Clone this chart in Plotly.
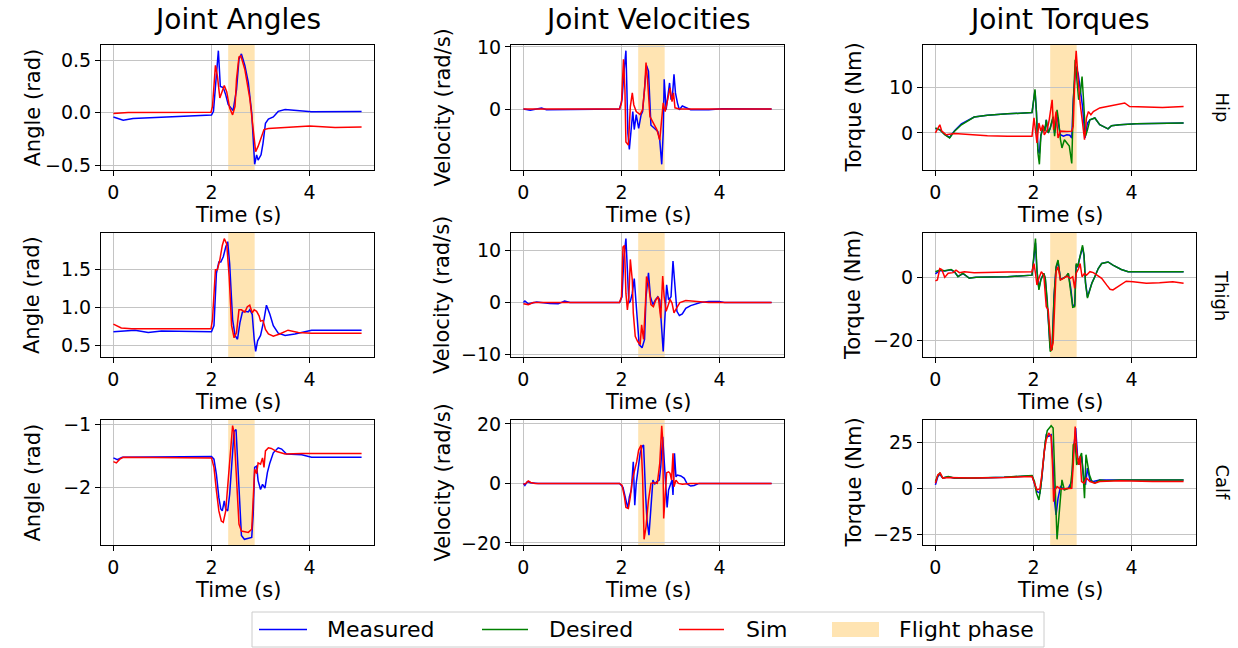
import plotly.graph_objects as go

W, H = 1238, 648
FONT = "DejaVu Sans"

# ---------------------------------------------------------------- data
# Each series is a list of (time [s], value) samples.
FLIGHT_START, FLIGHT_END = 2.34, 2.88

# Hip
hip_angle_measured = [(0, -0.04), (0.2, -0.07), (0.4, -0.055), (1.0, -0.04), (2.0, -0.022), (2.04, 0.013),
                      (2.09, 0.35), (2.14, 0.59), (2.18, 0.25), (2.24, 0.24), (2.29, 0.17), (2.34, 0.08),
                      (2.44, 0.02), (2.51, 0.22), (2.56, 0.51), (2.61, 0.56), (2.68, 0.45), (2.75, 0.29),
                      (2.82, 0.0), (2.85, -0.32), (2.88, -0.49), (2.92, -0.40), (2.95, -0.45), (3.01, -0.40),
                      (3.05, -0.29), (3.10, -0.10), (3.16, -0.06), (3.26, -0.04), (3.36, 0.013), (3.50, 0.03),
                      (3.84, 0.013), (4.04, 0.01), (5.06, 0.013)]
hip_angle_sim = [(0, -0.006), (0.3, 0.003), (1.99, 0.006), (2.02, 0.06), (2.08, 0.45), (2.12, 0.35),
                 (2.17, 0.14), (2.22, 0.22), (2.26, 0.26), (2.31, 0.2), (2.37, 0.045), (2.43, -0.02),
                 (2.48, 0.06), (2.51, 0.32), (2.56, 0.53), (2.6, 0.54), (2.68, 0.41), (2.78, 0.14),
                 (2.85, -0.2), (2.90, -0.37), (2.95, -0.32), (3.02, -0.23), (3.07, -0.16), (3.16, -0.15),
                 (3.5, -0.14), (4.0, -0.125), (4.52, -0.14), (5.06, -0.135)]

hip_vel_measured = [(0, 0), (0.14, -0.2), (0.37, 0.15), (0.47, -0.1), (1.96, 0), (2.01, 1.5), (2.05, 5.9),
                    (2.09, 9.4), (2.11, 3.2), (2.13, -3.9), (2.16, -6.5), (2.20, -2.3), (2.23, -0.4),
                    (2.26, -3.3), (2.3, -0.9), (2.35, -3.1), (2.4, -0.9), (2.43, -0.4), (2.47, 3.7),
                    (2.51, 7.0), (2.55, 6.1), (2.6, -2.6), (2.67, -3.1), (2.74, -3.6), (2.78, -5.0),
                    (2.82, -8.9), (2.85, -3.9), (2.87, 4.8), (2.91, -0.1), (2.95, 2.9), (2.98, 4.2),
                    (3.01, 1.5), (3.04, 2.3), (3.07, 5.6), (3.1, 2.6), (3.14, 1.0), (3.18, -0.1),
                    (3.24, 0.5), (3.31, 0.3), (3.41, -0.1), (3.78, -0.1), (4.05, 0.05), (5.06, 0)]
hip_vel_sim = [(0, 0), (1.96, 0), (2.0, 1.0), (2.04, 8.0), (2.07, 3.0), (2.09, -5.3), (2.14, -5.8),
               (2.18, 0.4), (2.22, 2.6), (2.25, 0.7), (2.3, -0.4), (2.38, -0.9), (2.43, -0.1), (2.47, 3.2),
               (2.5, 7.5), (2.53, 4.8), (2.58, -1.2), (2.65, -2.3), (2.72, -3.3), (2.78, -5.0),
               (2.82, -1.7), (2.85, 1.0), (2.89, -0.4), (2.94, 1.8), (2.99, 3.4), (3.03, 1.2),
               (3.06, 2.6), (3.09, 0.2), (3.18, 0), (5.06, 0)]

hip_tq_measured = [(0, 1.0), (0.09, 0.7), (0.19, -0.3), (0.29, -1.0), (0.39, 0.5), (0.53, 2.0), (0.79, 3.5),
                   (1.06, 3.9), (1.47, 4.2), (1.97, 4.5), (2.03, 9.3), (2.06, 4.6), (2.09, -3.6),
                   (2.12, -4.5), (2.15, -0.5), (2.2, 1.5), (2.23, 0.4), (2.26, 2.9), (2.30, 0), (2.34, 1.0),
                   (2.4, 3.4), (2.43, 0), (2.48, 3.6), (2.55, -0.4), (2.61, -0.7), (2.68, -0.4),
                   (2.74, -0.5), (2.78, -1.1), (2.81, 7.3), (2.86, 14.6), (2.91, 13.1), (2.95, 9.5),
                   (3.0, 5.8), (3.05, -1.1), (3.1, 2.2), (3.15, 2.9), (3.25, 3.3), (3.35, 1.8),
                   (3.45, 1.3), (3.52, 0.9), (3.59, 1.6), (3.76, 1.8), (4.09, 2.0), (5.06, 2.2)]
hip_tq_desired = [(0, 1.1), (0.09, 0.7), (0.19, -0.4), (0.29, -1.1), (0.39, 0.4), (0.53, 1.8), (0.79, 3.5),
                  (1.06, 3.9), (1.47, 4.2), (1.97, 4.5), (2.03, 9.6), (2.06, 4.4), (2.09, -4.4),
                  (2.12, -6.9), (2.15, -0.7), (2.2, 1.5), (2.23, 0.4), (2.26, 2.9), (2.30, 0), (2.34, 1.1),
                  (2.4, 3.6), (2.43, -0.7), (2.48, 5.1), (2.51, 2.9), (2.55, -1.5), (2.58, -3.3),
                  (2.63, -1.5), (2.68, -2.2), (2.73, -2.9), (2.78, -6.7), (2.81, 5.8), (2.85, 16.1),
                  (2.88, 11.7), (2.92, 7.3), (2.96, 9.1), (2.99, 12.4), (3.02, 7.3), (3.06, -0.7),
                  (3.1, 0.7), (3.15, 2.9), (3.25, 3.3), (3.35, 1.8), (3.45, 1.3), (3.52, 0.9), (3.59, 1.6),
                  (3.76, 1.8), (4.09, 2.0), (5.06, 2.2)]
hip_tq_sim = [(0, 0), (0.05, 1.1), (0.09, 1.8), (0.13, 0.4), (0.22, -0.4), (0.39, -0.1), (0.73, -0.4),
              (1.06, -0.6), (1.47, -0.7), (1.97, -0.7), (2.01, 3.3), (2.04, 0.7), (2.07, -2.2),
              (2.11, 2.2), (2.15, 0.4), (2.19, 1.8), (2.22, -0.4), (2.28, 0.7), (2.32, 2.9), (2.38, 7.3),
              (2.41, 0.7), (2.46, 4.7), (2.5, -1.1), (2.55, 0.4), (2.68, 0.3), (2.78, 0.4), (2.81, 1.5),
              (2.85, 14.6), (2.87, 18.1), (2.91, 11.7), (2.95, 6.6), (3.0, 2.2), (3.04, -1.5),
              (3.08, 3.3), (3.12, 4.7), (3.17, 4.0), (3.22, 4.7), (3.35, 5.5), (3.49, 5.8), (3.69, 6.2),
              (3.86, 6.6), (3.96, 5.8), (4.30, 5.7), (4.63, 5.6), (5.06, 5.8)]

# Thigh
thigh_angle_measured = [(0, 0.68), (0.16, 0.69), (0.44, 0.70), (0.71, 0.67), (0.98, 0.69), (2.0, 0.68),
                        (2.05, 0.76), (2.1, 1.45), (2.15, 1.6), (2.19, 1.6), (2.24, 1.67), (2.29, 1.8),
                        (2.33, 1.87), (2.37, 1.58), (2.43, 0.84), (2.48, 0.63), (2.53, 0.58), (2.58, 0.8),
                        (2.63, 0.94), (2.68, 0.95), (2.75, 0.94), (2.78, 0.97), (2.83, 0.91), (2.87, 0.58),
                        (2.9, 0.42), (2.94, 0.56), (3.0, 0.63), (3.07, 0.84), (3.12, 1.03), (3.19, 0.91),
                        (3.26, 0.76), (3.36, 0.66), (3.5, 0.63), (3.7, 0.65), (4.04, 0.70), (5.06, 0.70)]
thigh_angle_sim = [(0, 0.78), (0.16, 0.73), (0.37, 0.72), (1.99, 0.72), (2.02, 0.84), (2.08, 1.50),
                   (2.12, 1.50), (2.17, 1.63), (2.22, 1.82), (2.26, 1.91), (2.31, 1.84), (2.36, 1.41),
                   (2.41, 0.76), (2.46, 0.6), (2.51, 0.67), (2.56, 0.97), (2.61, 0.97), (2.68, 0.94),
                   (2.73, 1.01), (2.78, 1.03), (2.83, 0.93), (2.87, 0.97), (2.92, 0.95), (2.97, 0.89),
                   (3.0, 0.82), (3.05, 0.83), (3.1, 0.71), (3.16, 0.65), (3.26, 0.62), (3.39, 0.65),
                   (3.56, 0.70), (3.77, 0.67), (4.04, 0.66), (5.06, 0.66)]

thigh_vel_measured = [(0, 0), (0.03, 0.3), (0.1, -0.25), (0.27, 0.1), (0.54, -0.2), (0.71, -0.25),
                      (0.84, 0.3), (0.95, 0), (1.96, 0), (2.01, 1.1), (2.05, 8.8), (2.09, 12.3),
                      (2.12, 6.2), (2.15, -0.1), (2.18, 0.2), (2.22, 1.8), (2.26, 4.6), (2.3, -0.8),
                      (2.33, -5.2), (2.36, -8.1), (2.42, -8.7), (2.47, -7.1), (2.5, 1.1), (2.55, 5.7),
                      (2.59, 1.1), (2.64, -0.4), (2.69, 0.5), (2.74, 1.1), (2.78, 0.5), (2.82, -4.6),
                      (2.85, -9.4), (2.89, -2.0), (2.92, 3.4), (2.96, 0.5), (3.01, 1.1), (3.05, 8.0),
                      (3.09, 2.4), (3.13, -1.7), (3.18, -2.5), (3.24, -2.2), (3.31, -1.1), (3.41, -0.6),
                      (3.61, 0), (3.78, 0.2), (3.99, 0.2), (4.1, 0), (5.06, 0)]
thigh_vel_sim = [(0, -0.25), (0.1, -0.4), (0.2, 0), (1.96, 0), (2.0, 1.1), (2.03, 10.7), (2.06, 11.0),
                 (2.09, 1.8), (2.12, -1.4), (2.15, 1.1), (2.18, 8.3), (2.22, 4.3), (2.24, -2.0),
                 (2.28, -6.5), (2.33, -7.5), (2.38, -8.1), (2.41, -4.3), (2.45, -7.1), (2.49, 0.2),
                 (2.51, 5.0), (2.55, 3.7), (2.6, -0.4), (2.65, -0.8), (2.7, 0.5), (2.75, 1.1),
                 (2.8, -3.0), (2.84, 5.1), (2.87, 1.1), (2.91, -1.7), (2.95, -0.4), (2.99, 0.6),
                 (3.03, -0.1), (3.07, -2.0), (3.12, -1.1), (3.19, 0), (3.31, 0.4), (3.51, 0.25),
                 (3.78, 0), (5.06, 0)]

thigh_tq_measured = [(0, 1.1), (0.09, 2.2), (0.19, 2.0), (0.32, 2.4), (0.39, 1.7), (0.46, 0.3), (0.56, 1.2),
                     (0.69, -0.2), (0.83, 0), (1.06, 0), (1.47, 0.2), (1.97, 0.7), (2.01, 7.0),
                     (2.04, 11.0), (2.07, 2.0), (2.11, -3.5), (2.15, -0.6), (2.21, 1.2), (2.24, -0.4),
                     (2.28, -8.0), (2.31, -15.0), (2.34, -22.5), (2.38, -22.0), (2.42, -5.5), (2.46, 3.0),
                     (2.50, 5.0), (2.55, -0.6), (2.6, -0.3), (2.66, 0.2), (2.71, 1.2), (2.76, -3.5),
                     (2.8, -9.0), (2.84, -8.8), (2.87, 4.0), (2.9, 3.2), (2.94, 6.0), (2.97, 8.0),
                     (3.0, 9.5), (3.03, 6.8), (3.06, -1.5), (3.1, -6.2), (3.14, -4.3), (3.19, -1.8),
                     (3.25, 0.2), (3.32, 2.8), (3.39, 4.4), (3.52, 4.9), (3.62, 3.9), (3.79, 2.5),
                     (3.93, 1.8), (4.43, 1.7), (5.06, 1.8)]
thigh_tq_desired = [(0, 1.8), (0.09, 2.3), (0.19, 2.1), (0.32, 2.5), (0.39, 1.8), (0.46, 0.2), (0.56, 1.3),
                    (0.69, -0.3), (0.83, 0), (1.06, 0), (1.47, 0.2), (1.97, 0.7), (2.01, 7.6),
                    (2.04, 12.3), (2.07, 2.3), (2.11, -4.0), (2.15, -0.8), (2.21, 1.3), (2.24, -0.3),
                    (2.28, -7.2), (2.31, -15.6), (2.34, -23.5), (2.38, -22.9), (2.42, -6.1), (2.46, 3.4),
                    (2.50, 5.5), (2.55, -0.8), (2.6, -0.3), (2.66, 0.2), (2.71, 1.3), (2.76, -4.0),
                    (2.8, -9.5), (2.84, -9.3), (2.87, 4.4), (2.9, 3.4), (2.94, 6.5), (2.97, 8.6),
                    (3.0, 10.2), (3.03, 7.1), (3.06, -1.9), (3.1, -6.6), (3.14, -4.5), (3.19, -1.9),
                    (3.25, 0.2), (3.32, 2.8), (3.39, 4.4), (3.52, 4.9), (3.62, 3.9), (3.79, 2.5),
                    (3.93, 1.8), (4.43, 1.7), (5.06, 1.8)]
thigh_tq_sim = [(0, -1.1), (0.04, -0.8), (0.09, 2.8), (0.13, 2.5), (0.19, 0), (0.26, 1.3), (0.36, 1.5),
                (0.42, 2.3), (0.49, 1.5), (0.59, 1.8), (0.79, 1.5), (1.06, 1.5), (1.47, 1.7),
                (1.97, 1.8), (2.01, 4.4), (2.04, 1.3), (2.07, -2.4), (2.11, -0.3), (2.16, 1.8),
                (2.21, 0.7), (2.26, -9.3), (2.3, -10.3), (2.33, -17.7), (2.36, -23.3), (2.4, -20.8),
                (2.43, -6.1), (2.46, 1.8), (2.5, 3.4), (2.55, -0.8), (2.61, -0.3), (2.68, 0.4),
                (2.75, -0.3), (2.8, 0.2), (2.84, -3.5), (2.87, 1.3), (2.92, 2.8), (2.95, 4.4),
                (2.99, 0.2), (3.04, 1.3), (3.08, 0.7), (3.15, 1.8), (3.22, 1.5), (3.29, 0.7),
                (3.39, -0.3), (3.49, -2.4), (3.56, -3.8), (3.62, -4.0), (3.76, -2.4), (3.89, -1.2),
                (4.03, -1.4), (4.3, -1.9), (4.57, -1.7), (4.84, -1.4), (5.06, -1.9)]

# Calf
calf_angle_measured = [(0, -1.53), (0.08, -1.56), (0.18, -1.52), (0.44, -1.52), (1.12, -1.52), (2.0, -1.51),
                       (2.05, -1.55), (2.1, -1.79), (2.15, -2.16), (2.19, -2.34), (2.22, -2.37),
                       (2.26, -2.21), (2.29, -2.34), (2.33, -2.37), (2.37, -2.11), (2.43, -1.42),
                       (2.46, -1.11), (2.5, -1.08), (2.53, -1.53), (2.58, -2.42), (2.61, -2.76),
                       (2.67, -2.82), (2.75, -2.8), (2.82, -2.79), (2.85, -2.42), (2.88, -1.68),
                       (2.92, -1.66), (2.95, -1.89), (3.0, -2.03), (3.04, -1.95), (3.09, -2.01),
                       (3.14, -1.76), (3.19, -1.61), (3.26, -1.45), (3.36, -1.37), (3.43, -1.39),
                       (3.53, -1.47), (3.84, -1.48), (4.04, -1.52), (5.06, -1.52)]
calf_angle_sim = [(0, -1.59), (0.06, -1.61), (0.13, -1.55), (0.2, -1.52), (2.0, -1.53), (2.05, -1.68),
                  (2.1, -2.05), (2.15, -2.37), (2.2, -2.53), (2.24, -2.55), (2.29, -2.37), (2.34, -1.89),
                  (2.39, -1.32), (2.43, -1.02), (2.46, -1.13), (2.51, -1.89), (2.56, -2.58),
                  (2.61, -2.69), (2.75, -2.71), (2.82, -2.66), (2.85, -2.16), (2.88, -1.71),
                  (2.92, -1.78), (2.95, -1.61), (3.0, -1.63), (3.04, -1.53), (3.07, -1.68), (3.1, -1.42),
                  (3.16, -1.37), (3.22, -1.38), (3.33, -1.43), (3.5, -1.47), (3.84, -1.46),
                  (4.52, -1.46), (5.06, -1.46)]

calf_vel_measured = [(0, 0), (0.03, -0.7), (0.08, 0.6), (0.14, 0.2), (0.3, 0), (1.96, 0), (2.03, -1.3),
                     (2.08, -4.5), (2.13, -8.4), (2.16, -4.5), (2.2, -2.2), (2.24, 7.3), (2.27, -7.3),
                     (2.3, 0), (2.34, 5.6), (2.38, 10.1), (2.42, 12.4), (2.45, 12.9), (2.49, -3.4),
                     (2.52, -12.4), (2.56, -17.4), (2.6, -7.9), (2.64, 1.1), (2.68, -0.2), (2.72, 0.6),
                     (2.77, 1.1), (2.8, 5.6), (2.84, 15.7), (2.87, 7.3), (2.9, -1.1), (2.93, -8.1),
                     (2.96, -2.2), (3.0, -0.6), (3.03, 1.1), (3.05, -3.9), (3.08, 10.1), (3.11, 2.2),
                     (3.14, 2.8), (3.21, 2.5), (3.28, 1.7), (3.34, -0.2), (3.41, -0.9), (3.48, -0.7),
                     (3.58, 0), (5.06, 0)]
calf_vel_sim = [(0, -0.3), (0.05, 0), (0.1, 0.8), (0.15, 0.3), (0.24, 0), (1.96, 0), (2.01, -0.6),
                (2.06, -4.5), (2.09, -8.1), (2.14, -8.4), (2.18, -4.5), (2.22, 1.1), (2.26, 3.9),
                (2.31, 7.3), (2.35, 11.2), (2.4, 12.9), (2.43, 2.2), (2.46, -18.8), (2.5, -14.6),
                (2.55, -5.6), (2.6, 0), (2.65, 0.2), (2.73, 0), (2.78, 6.7), (2.82, 19.4), (2.84, 14.6),
                (2.86, -11.8), (2.89, -2.2), (2.92, 3.6), (2.96, 3.9), (2.99, 3.4), (3.02, 1.1),
                (3.05, 10.1), (3.07, -1.1), (3.11, 1.1), (3.16, 0), (3.24, -0.3), (3.4, 0), (5.06, 0)]

calf_tq_measured = [(0, 1.8), (0.05, 6.4), (0.09, 7.6), (0.15, 5.5), (0.26, 6.2), (0.39, 5.4), (0.73, 5.4),
                    (1.4, 5.9), (1.97, 6.8), (2.02, 2.7), (2.07, -1.8), (2.13, -2.7), (2.17, 5.5),
                    (2.22, 20.0), (2.26, 29.0), (2.31, 28.2), (2.36, 29.0), (2.4, 12.7), (2.43, -7.3),
                    (2.46, -14.5), (2.5, -5.5), (2.55, 0.9), (2.61, -0.4), (2.71, 0), (2.78, 3.6),
                    (2.81, 18.2), (2.86, 32.7), (2.9, 16.4), (2.95, 12.7), (2.98, 17.3), (3.02, 7.3),
                    (3.06, 1.8), (3.1, 10.9), (3.15, 4.5), (3.22, 3.6), (3.35, 4.5), (3.76, 4.4),
                    (4.43, 4.4), (5.06, 4.5)]
calf_tq_desired = [(0, 3.6), (0.04, 6.4), (0.09, 8.2), (0.15, 5.5), (0.26, 6.4), (0.39, 5.5), (0.73, 5.5),
                   (1.4, 6.0), (1.97, 6.9), (2.02, 3.6), (2.06, -2.7), (2.11, -6.4), (2.15, 0.9),
                   (2.2, 13.6), (2.24, 25.5), (2.28, 31.3), (2.31, 32.4), (2.36, 34.0), (2.4, 32.7),
                   (2.43, 14.5), (2.45, -5.5), (2.48, -27.8), (2.51, -16.4), (2.55, -5.5), (2.58, 4.5),
                   (2.63, -0.9), (2.68, -0.4), (2.75, 0.4), (2.79, 10.0), (2.81, 23.6), (2.85, 24.5),
                   (2.88, 12.7), (2.94, 16.4), (2.98, 19.1), (3.02, 3.6), (3.04, -5.5), (3.07, 18.2),
                   (3.1, 12.7), (3.14, 7.3), (3.19, 3.6), (3.25, 2.7), (3.35, 4.5), (3.49, 4.0),
                   (3.76, 4.4), (4.43, 4.4), (5.06, 4.5)]
calf_tq_sim = [(0, 2.7), (0.05, 7.3), (0.1, 8.2), (0.15, 5.5), (0.26, 5.8), (0.73, 5.5), (1.4, 5.8),
               (1.97, 6.4), (2.02, 2.7), (2.07, -0.9), (2.13, -0.4), (2.17, 7.3), (2.22, 20.0),
               (2.26, 26.4), (2.31, 30.0), (2.36, 28.2), (2.39, 10.9), (2.41, -7.3), (2.44, -0.9),
               (2.48, 0.9), (2.55, -0.4), (2.68, -0.4), (2.78, 0), (2.81, 12.7), (2.85, 33.6),
               (2.88, 20.0), (2.92, 12.7), (2.95, 17.3), (2.98, 3.6), (3.03, 2.7), (3.08, 5.5),
               (3.15, 3.6), (3.25, 2.7), (3.35, 3.6), (3.76, 4.0), (4.43, 3.6), (5.06, 3.6)]

COLUMN_TITLES = ["Joint Angles", "Joint Velocities", "Joint Torques"]
ROW_NAMES = ["Hip", "Thigh", "Calf"]
Y_LABELS = ["Angle (rad)", "Velocity (rad/s)", "Torque (Nm)"]
X_LABEL = "Time (s)"
X_TICKS = [0, 2, 4]
Y_TICKS = [
    [[-0.5, 0.0, 0.5], [0, 10], [0, 10]],
    [[0.5, 1.0, 1.5], [-10, 0, 10], [-20, 0]],
    [[-2, -1], [-20, 0, 20], [-25, 0, 25]],
]
Y_TICK_FORMAT = [[".1f", "d", "d"], [".1f", "d", "d"], ["d", "d", "d"]]
LEGEND_NAMES = ["Measured", "Desired", "Sim", "Flight phase"]

PANELS = [
    [{"Measured": hip_angle_measured, "Sim": hip_angle_sim},
     {"Measured": hip_vel_measured, "Sim": hip_vel_sim},
     {"Measured": hip_tq_measured, "Desired": hip_tq_desired, "Sim": hip_tq_sim}],
    [{"Measured": thigh_angle_measured, "Sim": thigh_angle_sim},
     {"Measured": thigh_vel_measured, "Sim": thigh_vel_sim},
     {"Measured": thigh_tq_measured, "Desired": thigh_tq_desired, "Sim": thigh_tq_sim}],
    [{"Measured": calf_angle_measured, "Sim": calf_angle_sim},
     {"Measured": calf_vel_measured, "Sim": calf_vel_sim},
     {"Measured": calf_tq_measured, "Desired": calf_tq_desired, "Sim": calf_tq_sim}],
]

COLORS = {"Measured": "#0000ff", "Desired": "#008000", "Sim": "#ff0000"}
FLIGHT_COLOR = "rgba(255,165,0,0.3)"

# ---------------------------------------------------------------- layout geometry (pixels)
COL_PX = [(101, 374), (511, 784), (923, 1196)]
ROW_PX = [(45, 170), (233, 357), (420, 545)]
YLABEL_X = [32, 442, 853]
# legend: (sample start, sample end, text start) per entry
LEGEND_SLOTS = [(259, 307, 325), (482, 528, 547), (679, 724, 744), (832, 879, 897)]
LEGEND_BOX = (252, 1044, 612, 647)
LEGEND_MID = 629.5


def px_x(px):
    return px / W


def px_y(py):
    return 1 - py / H


def fmt_tick(v, f):
    s = f"{v:.1f}" if f == ".1f" else f"{int(v)}"
    return s.replace("-", "\u2212")


def padded(lo, hi):
    span = hi - lo
    return [lo - 0.05 * span, hi + 0.05 * span]


fig = go.Figure()
layout = dict(
    width=W, height=H, autosize=False,
    margin=dict(l=0, r=0, t=0, b=0, pad=0, autoexpand=False),
    paper_bgcolor="white", plot_bgcolor="white",
    font=dict(family=FONT, color="black"),
    showlegend=False,
    shapes=[], annotations=[],
)

for r in range(3):
    for c in range(3):
        k = r * 3 + c + 1
        sfx = "" if k == 1 else str(k)
        xa, ya = f"x{sfx}", f"y{sfx}"
        panel = PANELS[r][c]

        all_t = [t for s in panel.values() for t, _ in s]
        all_v = [v for s in panel.values() for _, v in s]

        for name in ["Measured", "Desired", "Sim"]:
            if name not in panel:
                continue
            series = panel[name]
            fig.add_trace(go.Scatter(
                x=[t for t, _ in series], y=[v for _, v in series],
                mode="lines", name=name, xaxis=xa, yaxis=ya,
                line=dict(color=COLORS[name], width=1.5),
                hoverinfo="skip",
            ))

        x0, x1 = COL_PX[c]
        y0, y1 = ROW_PX[r]
        axis_common = dict(
            showline=True, linecolor="black", linewidth=1, mirror=True,
            ticks="outside", ticklen=5, tickwidth=1, tickcolor="black",
            showgrid=True, gridcolor="#c4c4c4", gridwidth=1,
            zeroline=False, automargin=False, tickfont=dict(size=19, family=FONT),
        )
        layout[f"xaxis{k}"] = dict(
            axis_common, domain=[px_x(x0), px_x(x1)], anchor=ya,
            range=padded(min(all_t), max(all_t)),
            tickmode="array", tickvals=X_TICKS, ticktext=[str(t) for t in X_TICKS],
        )
        layout[f"yaxis{k}"] = dict(
            axis_common, domain=[px_y(y1), px_y(y0)], anchor=xa,
            range=padded(min(all_v), max(all_v)),
            tickmode="array", tickvals=Y_TICKS[r][c],
            ticktext=[fmt_tick(v, Y_TICK_FORMAT[r][c]) for v in Y_TICKS[r][c]],
        )

        # flight phase band
        layout["shapes"].append(dict(
            type="rect", xref=xa, yref=f"{ya} domain",
            x0=FLIGHT_START, x1=FLIGHT_END, y0=0, y1=1,
            fillcolor=FLIGHT_COLOR, line=dict(width=0), layer="below",
        ))

        # axis labels
        layout["annotations"].append(dict(
            text=X_LABEL, xref="paper", yref="paper",
            x=px_x((x0 + x1) / 2), y=px_y(y1 + 45), xanchor="center", yanchor="middle",
            showarrow=False, font=dict(size=21, family=FONT),
        ))
        layout["annotations"].append(dict(
            text=Y_LABELS[c], xref="paper", yref="paper",
            x=px_x(YLABEL_X[c]), y=px_y((y0 + y1) / 2), xanchor="center", yanchor="middle",
            textangle=-90, showarrow=False, font=dict(size=21, family=FONT),
        ))

# column titles and row names
for c, title in enumerate(COLUMN_TITLES):
    x0, x1 = COL_PX[c]
    layout["annotations"].append(dict(
        text=title, xref="paper", yref="paper", x=px_x((x0 + x1) / 2), y=px_y(19),
        xanchor="center", yanchor="middle", showarrow=False, font=dict(size=28, family=FONT),
    ))
for r, name in enumerate(ROW_NAMES):
    y0, y1 = ROW_PX[r]
    layout["annotations"].append(dict(
        text=name, xref="paper", yref="paper", x=px_x(1222), y=px_y((y0 + y1) / 2),
        xanchor="center", yanchor="middle", textangle=90, showarrow=False,
        font=dict(size=18, family=FONT),
    ))

# legend: frame, samples and labels
bx0, bx1, by0, by1 = LEGEND_BOX
layout["shapes"].append(dict(
    type="rect", xref="paper", yref="paper",
    x0=px_x(bx0), x1=px_x(bx1), y0=px_y(by1), y1=px_y(by0),
    line=dict(color="#cccccc", width=1), fillcolor="white", layer="above",
))
for name, (sx0, sx1, tx) in zip(LEGEND_NAMES, LEGEND_SLOTS):
    if name in COLORS:
        layout["shapes"].append(dict(
            type="line", xref="paper", yref="paper",
            x0=px_x(sx0), x1=px_x(sx1), y0=px_y(LEGEND_MID), y1=px_y(LEGEND_MID),
            line=dict(color=COLORS[name], width=1.5), layer="above",
        ))
    else:
        layout["shapes"].append(dict(
            type="rect", xref="paper", yref="paper",
            x0=px_x(sx0), x1=px_x(sx1), y0=px_y(LEGEND_MID + 7.5), y1=px_y(LEGEND_MID - 7.5),
            fillcolor=FLIGHT_COLOR, line=dict(width=0), layer="above",
        ))
    layout["annotations"].append(dict(
        text=name, xref="paper", yref="paper", x=px_x(tx), y=px_y(LEGEND_MID),
        xanchor="left", yanchor="middle", showarrow=False, font=dict(size=22, family=FONT),
    ))

fig.update_layout(**layout)
fig.write_html("out.html")
